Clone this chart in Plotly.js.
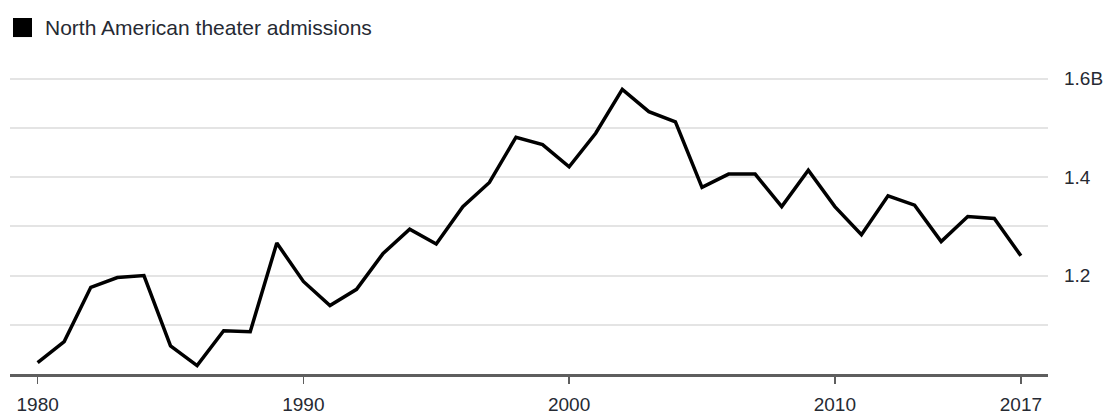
<!DOCTYPE html>
<html>
<head>
<meta charset="utf-8">
<script src="https://cdn.plot.ly/plotly-3.0.1.min.js"></script>
<style>
  html, body { margin: 0; padding: 0; background: #fff; }
  #chart { width: 1105px; height: 414px; }
</style>
</head>
<body>
<div id="chart"></div>
<script>
// Years on the x axis
const years = [1980, 1981, 1982, 1983, 1984, 1985, 1986, 1987, 1988, 1989,
               1990, 1991, 1992, 1993, 1994, 1995, 1996, 1997, 1998, 1999,
               2000, 2001, 2002, 2003, 2004, 2005, 2006, 2007, 2008, 2009,
               2010, 2011, 2012, 2013, 2014, 2015, 2016, 2017];
// North American theater admissions, billions
const admissions = [1.023, 1.066, 1.176, 1.196, 1.200, 1.057, 1.017, 1.088, 1.086, 1.266,
                    1.188, 1.139, 1.172, 1.245, 1.294, 1.264, 1.340, 1.389, 1.481, 1.466,
                    1.421, 1.489, 1.578, 1.533, 1.512, 1.379, 1.406, 1.406, 1.340, 1.414,
                    1.340, 1.283, 1.362, 1.343, 1.269, 1.320, 1.316, 1.240];
const seriesName = 'North American theater admissions';
const xTickVals = [1980, 1990, 2000, 2010, 2017];
const xTickText = ['1980', '1990', '2000', '2010', '2017'];
const yTickVals = [1.1, 1.2, 1.3, 1.4, 1.5, 1.6];
const yTickText = ['', '1.2', '', '1.4', '', '1.6B'];

const FONT = '"Liberation Sans", Arial, Helvetica, sans-serif';
const TEXT = '#262a33';

const data = [
  {
    x: years, y: admissions, type: 'scatter', mode: 'lines',
    name: seriesName,
    line: { color: '#000000', width: 3.5, shape: 'linear' },
    showlegend: false, hoverinfo: 'x+y'
  }
];

const layout = {
  width: 1105, height: 414,
  margin: { l: 10, r: 57, t: 54, b: 40, autoexpand: false },
  paper_bgcolor: '#ffffff', plot_bgcolor: '#ffffff',
  font: { family: FONT, size: 19, color: TEXT },
  showlegend: false,
  xaxis: {
    range: [1978.96, 2018.02],
    tickmode: 'array', tickvals: xTickVals, ticktext: xTickText,
    showgrid: false, zeroline: false,
    showline: true, linecolor: '#5e5e5e', linewidth: 2.5,
    ticks: 'outside', ticklen: 7, tickwidth: 1.5, tickcolor: '#5e5e5e',
    ticklabelstandoff: 5,
    tickfont: { family: FONT, size: 19, color: TEXT },
    fixedrange: true
  },
  yaxis: {
    range: [1.0, 1.65], side: 'right',
    tickmode: 'array', tickvals: yTickVals, ticktext: yTickText,
    showgrid: true, gridcolor: '#e4e4e4', gridwidth: 2,
    zeroline: false, showline: false, ticks: '',
    ticklabelstandoff: 15,
    tickfont: { family: FONT, size: 19, color: TEXT },
    fixedrange: true
  },
  shapes: [
    { type: 'rect', xref: 'paper', yref: 'paper',
      x0: 0.0029, x1: 0.0212, y0: 1.053, y1: 1.1125,
      fillcolor: '#000000', line: { width: 0 } }
  ],
  annotations: [
    { text: seriesName, xref: 'paper', yref: 'paper',
      x: 0.0318, xanchor: 'left', y: 1.0828, yanchor: 'middle',
      showarrow: false, font: { family: FONT, size: 21, color: TEXT } }
  ]
};

Plotly.newPlot('chart', data, layout, { displayModeBar: false, staticPlot: true });
</script>
</body>
</html>
